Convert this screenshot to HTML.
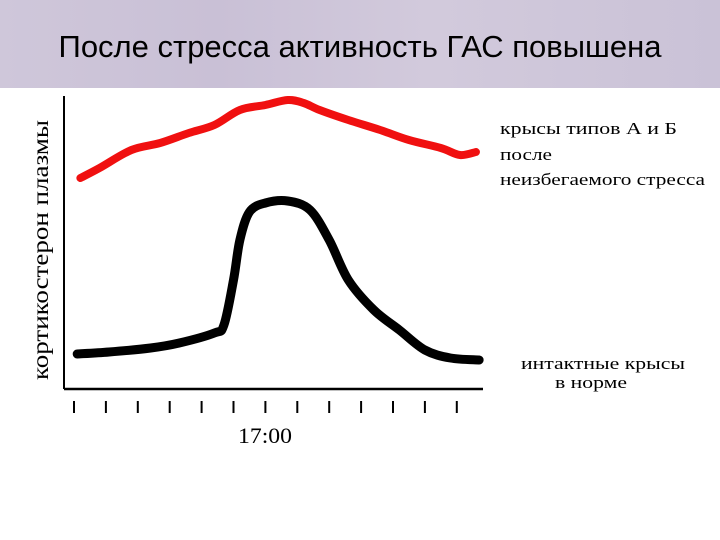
<!DOCTYPE html>
<html><head><meta charset="utf-8"><style>
html,body{margin:0;padding:0;background:#fff;}
#wrap{position:relative;width:720px;height:540px;overflow:hidden;background:#fff;}
#hdr{position:absolute;left:0;top:0;width:720px;height:88px;background:linear-gradient(90deg,#cfc7da,#c9c0d6 30%,#d2cadc 60%,#cac2d7);}
#title{position:absolute;left:0;top:29px;width:720px;text-align:center;font:31px "Liberation Sans",sans-serif;color:#000;}
svg text{font-family:"Liberation Serif",serif;}
</style></head><body>
<div id="wrap">
<div id="hdr"></div>
<div id="title">После стресса активность ГАС повышена</div>
<svg id="chart" width="720" height="540" style="position:absolute;left:0;top:0">
<line x1="64" y1="96" x2="64" y2="389" stroke="#000" stroke-width="2"/>
<line x1="64" y1="389" x2="483" y2="389" stroke="#000" stroke-width="2.5"/>
<text x="0" y="0" transform="translate(48,250) rotate(-90)" text-anchor="middle" font-size="23" textLength="260" lengthAdjust="spacingAndGlyphs">кортикостерон плазмы</text>
<text x="265" y="443" text-anchor="middle" font-size="22" textLength="54" lengthAdjust="spacingAndGlyphs">17:00</text>
<g font-size="17">
<text x="500" y="134" textLength="177" lengthAdjust="spacingAndGlyphs">крысы типов А и Б</text>
<text x="500" y="160" textLength="52" lengthAdjust="spacingAndGlyphs">после</text>
<text x="500" y="185" textLength="205" lengthAdjust="spacingAndGlyphs">неизбегаемого стресса</text>
<text x="521" y="369" textLength="164" lengthAdjust="spacingAndGlyphs">интактные крысы</text>
<text x="555" y="388" textLength="72" lengthAdjust="spacingAndGlyphs">в норме</text>
</g>
<g id="ticks"></g>
<g id="series"></g>
</svg>
</div>
<script>
const tickCount = 13;
const stressT = [0.2,0.8,1.8,2.7,3.6,4.4,5.2,6.0,6.7,7.2,7.7,8.6,9.6,10.5,11.5,12.1,12.6];
const stressV = [211,221,239,246,256,264,279,284,289,286,279,269,259,249,241,234,237];
const normalT = [0.1,1.1,2.4,3.3,4.4,4.7,5.0,5.2,5.5,6.0,6.7,7.4,8.0,8.6,9.4,10.2,11.0,11.8,12.7];
const normalV = [35,37,41,46,56,64,109,149,177,186,188,179,149,109,79,59,39,31,29];
const X0=74, DX=31.9, Y0=389;
function xs(t){return X0+t*DX;}
function ys(v){return Y0-v;}
const NS='http://www.w3.org/2000/svg';
const tg=document.getElementById('ticks');
for(let i=0;i<tickCount;i++){
  const l=document.createElementNS(NS,'line');
  l.setAttribute('x1',xs(i));l.setAttribute('x2',xs(i));
  l.setAttribute('y1',401);l.setAttribute('y2',413);
  l.setAttribute('stroke','#000');l.setAttribute('stroke-width','2');
  
  
  tg.appendChild(l);
}
function path(T,V){
  const p=T.map((t,i)=>[xs(t),ys(V[i])]);
  let d='M'+p[0][0]+','+p[0][1];
  for(let i=0;i<p.length-1;i++){
    const p0=p[i-1]||p[i],p1=p[i],p2=p[i+1],p3=p[i+2]||p2;
    d+=' C'+(p1[0]+(p2[0]-p0[0])/6)+','+(p1[1]+(p2[1]-p0[1])/6)+' '+(p2[0]-(p3[0]-p1[0])/6)+','+(p2[1]-(p3[1]-p1[1])/6)+' '+p2[0]+','+p2[1];
  }
  return d;
}
const sg=document.getElementById('series');
const r=document.createElementNS(NS,'path');
r.setAttribute('d',path(stressT,stressV));
r.setAttribute('fill','none');r.setAttribute('stroke','#f01010');r.setAttribute('stroke-width','8');r.setAttribute('stroke-linecap','round');r.setAttribute('stroke-linejoin','round');


sg.appendChild(r);
const b=document.createElementNS(NS,'path');
b.setAttribute('d',path(normalT,normalV));
b.setAttribute('fill','none');b.setAttribute('stroke','#000');b.setAttribute('stroke-width','9');b.setAttribute('stroke-linecap','round');b.setAttribute('stroke-linejoin','round');


sg.appendChild(b);
</script>
</body></html>
